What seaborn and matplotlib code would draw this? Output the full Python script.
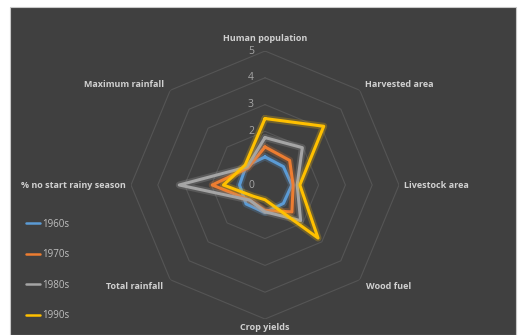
import matplotlib
matplotlib.use("Agg")
import matplotlib.pyplot as plt
import matplotlib.patheffects as pe
from matplotlib.patches import Rectangle
import numpy as np
import pandas as pd
import seaborn as sns

categories = ["Human population", "Harvested area", "Livestock area", "Wood fuel",
              "Crop yields", "Total rainfall", "% no start rainy season", "Maximum rainfall"]
decades = ["1960s", "1970s", "1980s", "1990s"]
v1960s = [1.05, 0.97, 1.0, 0.97, 1.03, 1.0, 0.95, 1.0]
v1970s = [1.42, 1.3, 1.05, 1.42, 0.95, 0.8, 1.97, 0.9]
v1980s = [1.77, 1.97, 1.2, 1.88, 1.0, 0.8, 3.2, 0.95]
v1990s = [2.48, 3.1, 1.3, 2.8, 0.55, 0.6, 1.55, 1.05]
ticks = [0, 2, 3, 4, 5]
colors = ["#5B9BD5", "#ED7D31", "#A5A5A5", "#FFC000"]

BG = "#404040"

sns.set_theme(style="dark")
plt.rcParams["font.family"] = ["Open Sans", "DejaVu Sans"]

n = len(categories)
angles = np.arange(n) * 2 * np.pi / n

# long-form table, each series closed back on its first point
rows = []
for dec, vals in zip(decades, [v1960s, v1970s, v1980s, v1990s]):
    for i in range(n):
        rows.append({"decade": dec, "theta": angles[i], "value": vals[i]})
    rows.append({"decade": dec, "theta": 2 * np.pi, "value": vals[0]})
df = pd.DataFrame(rows)

fig = plt.figure(figsize=(5.2, 3.35), dpi=100, facecolor="white")
fig.patches.append(Rectangle((10 / 520, 0), 506 / 520, 1 - 7 / 335, transform=fig.transFigure,
                             facecolor=BG, edgecolor="#c8c8c8", linewidth=0.8, zorder=-1))

ax = fig.add_axes([131 / 520, 16 / 335, 268 / 520, 268 / 335], projection="polar")
ax.set_facecolor("none")
ax.set_theta_zero_location("N")
ax.set_theta_direction(-1)
ax.set_ylim(0, 5)
ax.grid(False)
ax.spines["polar"].set_visible(False)
ax.set_xticks([])
ax.set_yticks([])

# octagonal grid rings
ring_th = np.append(angles, 2 * np.pi)
for r in range(1, 6):
    ax.plot(ring_th, [r] * (n + 1), color="#555555", linewidth=0.8, zorder=1)
n_rings = len(ax.get_lines())

sns.lineplot(data=df, x="theta", y="value", hue="decade", palette=colors, sort=False,
             estimator=None, linewidth=2.2, ax=ax, zorder=3)
for line, c in zip(ax.get_lines()[n_rings:], colors):
    line.set_path_effects([pe.Stroke(linewidth=5, foreground=c, alpha=0.25), pe.Normal()])

for t in ticks:
    ax.annotate(str(t), xy=(0, t), xytext=(-14, 0), textcoords="offset pixels",
                ha="center", va="center", color="#a6a6a6", fontsize=7.5, zorder=2)

label_pos = [
    (5.45, "center"),
    (5.3, "left"),
    (5.2, "left"),
    (5.35, "left"),
    (5.3, "center"),
    (5.35, "right"),
    (5.2, "right"),
    (5.3, "right"),
]
for ang, cat, (r, ha) in zip(angles, categories, label_pos):
    ax.text(ang, r, cat, ha=ha, va="center", color="#d0d0d0", fontsize=6.5,
            fontweight="bold", clip_on=False)

handles, labels = ax.get_legend_handles_labels()
ax.legend(handles, labels, loc="upper left", bbox_to_anchor=(22 / 520, 1 - 215 / 335),
          bbox_transform=fig.transFigure, frameon=False, fontsize=7, labelcolor="#bfbfbf",
          handlelength=1.5, handletextpad=0.15, labelspacing=2.0, borderaxespad=0)
for lh in ax.get_legend().get_lines():
    lh.set_linewidth(1.8)
    lh.set_path_effects([])

fig.savefig("out.png", dpi=100, facecolor="white")
